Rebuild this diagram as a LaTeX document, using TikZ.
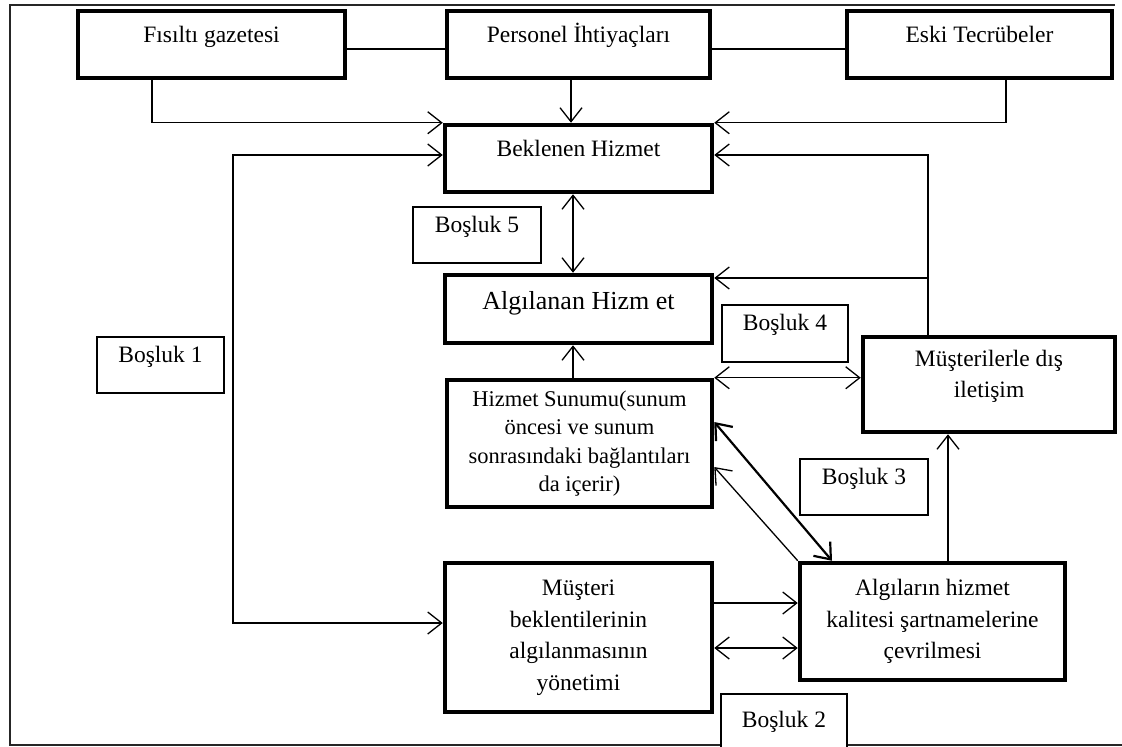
\documentclass[tikz,border=0pt]{standalone}
\usepackage{fontspec}
\setmainfont{Liberation Serif}
\usetikzlibrary{positioning, arrows.meta}

\begin{document}
\begin{tikzpicture}[x=1pt, y=-1pt,
    txt/.style={font=\fontsize{23.5}{31.5}\selectfont},
    bigbox/.style={draw, line width=4.5pt, inner sep=0pt, align=center, txt},
    gapbox/.style={draw, line width=1.4pt, fill=white, inner sep=0pt, txt, text height=15pt, text depth=21pt},
    upper/.style={text height=15pt, text depth=#1},
    con/.style={line width=1.3pt},
    arr/.style={con, -{Straight Barb[length=14pt, width=22pt]}},
    both/.style={con, {Straight Barb[length=14pt, width=22pt]}-{Straight Barb[length=14pt, width=22pt]}}]
    \useasboundingbox (0,0) rectangle (1122,747);
    \coordinate (fx) at (152,0); \coordinate (px) at (571,0); \coordinate (ex) at (1006,0);
    \coordinate (lx) at (233,0); \coordinate (rx) at (928,0);
    \coordinate (mx) at (573,0); \coordinate (ux) at (948,0);
    % kutular
    \node[bigbox, minimum width=267pt, minimum height=67pt, upper=19pt] (fisilti) at (211.5,44.5) {Fısıltı gazetesi};
    \node[bigbox, minimum width=263pt, minimum height=67pt, upper=19pt] (personel) at (578.5,44.5) {Personel İhtiyaçları};
    \node[bigbox, minimum width=265pt, minimum height=67pt, upper=19pt] (eski) at (979.5,44.5) {Eski Tecrübeler};
    \node[bigbox, minimum width=267pt, minimum height=67pt, upper=19pt] (beklenen) at (578.5,158.5) {Beklenen Hizmet};
    \node[bigbox, minimum width=267pt, minimum height=68pt, upper=18pt, text height=18pt, font=\fontsize{26}{31}\selectfont] (algilanan) at (578.5,309) {Algılanan Hizm et};
    \node[bigbox, minimum width=265pt, minimum height=127pt, font=\fontsize{22.5}{28.5}\selectfont] (sunum) at (579.5,443.5) {Hizmet Sunumu(sunum\\öncesi ve sunum\\sonrasındaki bağlantıları\\da içerir)};
    \node[bigbox, minimum width=267pt, minimum height=149pt] (musteri) at (578.5,637.5) {Müşteri\\beklentilerinin\\algılanmasının\\yönetimi};
    \node[bigbox, minimum width=265pt, minimum height=117pt] (sartname) at (932.5,621.5) {Algıların hizmet\\kalitesi şartnamelerine\\çevrilmesi};
    \node[bigbox, minimum width=252pt, minimum height=95pt] (iletisim) at (989,384.5) {Müşterilerle dış\\iletişim\\[-10pt]};
    % bosluklar
    \node[gapbox, minimum width=128pt, minimum height=56pt] (bosluk5) at (477,235) {Boşluk 5};
    \node[gapbox, minimum width=127pt, minimum height=56pt] (bosluk1) at (160.5,365) {Boşluk 1};
    \node[gapbox, minimum width=126pt, minimum height=57pt] (bosluk4) at (785,333.5) {Boşluk 4};
    \node[gapbox, minimum width=128pt, minimum height=56pt] (bosluk3) at (864,487) {Boşluk 3};
    \node[gapbox, minimum width=126pt, minimum height=72pt] (bosluk2) at (784,730) {Boşluk 2};
    % cerceve
    \draw[con, black!85] (1115,5) -- (10,5) -- (10,745) -- (bosluk2.west |- 0,745);
    \draw[con, black!85] (bosluk2.east |- 0,745) -- (1122,745);
    % baglantilar
    \draw[con] ([yshift=-4.5pt]fisilti.east) -- ([yshift=-4.5pt]personel.west);
    \draw[con] ([yshift=-4.5pt]personel.east) -- ([yshift=-4.5pt]eski.west);
    \draw[arr] (fisilti.south -| fx) |- (beklenen.north west);
    \draw[arr] (personel.south -| px) -- (beklenen.north -| px);
    \draw[arr] (eski.south -| ex) |- (beklenen.north east);
    \draw[both] ([yshift=3.5pt]beklenen.west) -| (lx |- 0,623) -- ([yshift=14.5pt]musteri.west);
    \draw[arr] (iletisim.north -| rx) |- ([yshift=3.5pt]beklenen.east);
    \draw[arr] (rx |- 0,278) -- (algilanan.east |- 0,278);
    \draw[both] (beklenen.south -| mx) -- (algilanan.north -| mx);
    \draw[arr] (sunum.north -| mx) -- (algilanan.south -| mx);
    \draw[both] (sunum.north east) -- (iletisim.west |- sunum.north east);
    \draw[arr] (sartname.north -| ux) -- (iletisim.south -| ux);
    \draw[both, line width=2.2pt] (sunum.east |- 0,422) -- (sartname.north -| 832,0);
    \draw[arr] (sartname.north west) -- (sunum.east |- 0,467);
    \draw[arr] (musteri.east |- 0,603) -- (sartname.west |- 0,603);
    \draw[both] (musteri.east |- 0,648) -- (sartname.west |- 0,648);
\end{tikzpicture}
\end{document}
